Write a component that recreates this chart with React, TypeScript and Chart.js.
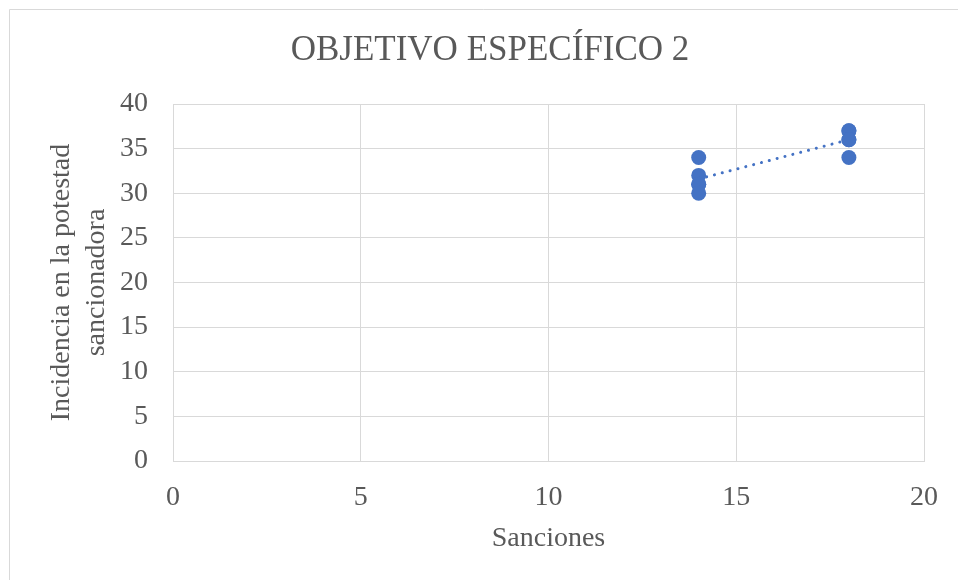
import React, { useEffect, useRef } from "react";
import { Chart, registerables } from "chart.js";

Chart.register(...registerables);

const chartTitle = "OBJETIVO ESPECÍFICO 2";
const xAxisTitle = "Sanciones";
const yAxisTitle = ["Incidencia en la potestad", "sancionadora"];

const sanciones = [14, 14, 14, 14, 14, 18, 18, 18, 18, 18];
const incidencia = [34, 32, 31, 31, 30, 37, 37, 36, 36, 34];

const xMin = 0;
const xMax = 20;
const yMin = 0;
const yMax = 40;
const step = 5;

const blue = "#4472C4";
const tickColor = "#595959";
const gridColor = "#d9d9d9";
const serif = "'Liberation Serif', 'Times New Roman', serif";

function linearFit(xs: number[], ys: number[]) {
  const n = xs.length;
  const mx = xs.reduce((a, b) => a + b, 0) / n;
  const my = ys.reduce((a, b) => a + b, 0) / n;
  let num = 0;
  let den = 0;
  for (let i = 0; i < n; i++) {
    num += (xs[i] - mx) * (ys[i] - my);
    den += (xs[i] - mx) * (xs[i] - mx);
  }
  const slope = num / den;
  return { slope, intercept: my - slope * mx };
}

const decorPlugin = {
  id: "decor",
  beforeDraw(chart: any) {
    const ctx = chart.ctx;
    ctx.save();
    ctx.fillStyle = "#ffffff";
    ctx.fillRect(0, 0, chart.width, chart.height);
    ctx.strokeStyle = "#d9d9d9";
    ctx.lineWidth = 1;
    ctx.beginPath();
    ctx.moveTo(9.5, chart.height);
    ctx.lineTo(9.5, 9.5);
    ctx.lineTo(chart.width, 9.5);
    ctx.stroke();
    ctx.fillStyle = tickColor;
    ctx.font = `35px ${serif}`;
    ctx.textAlign = "center";
    ctx.textBaseline = "middle";
    ctx.fillText(chartTitle, 490, 51);
    ctx.restore();
  },
};

export default function App() {
  const ref = useRef<HTMLCanvasElement>(null);

  useEffect(() => {
    document.body.style.margin = "0";
    const points = sanciones.map((x, i) => ({ x, y: incidencia[i] }));
    const fit = linearFit(sanciones, incidencia);
    const x0 = Math.min(...sanciones);
    const x1 = Math.max(...sanciones);
    const trend = [
      { x: x0, y: fit.intercept + fit.slope * x0 },
      { x: x1, y: fit.intercept + fit.slope * x1 },
    ];

    const chart = new Chart(ref.current as HTMLCanvasElement, {
      type: "scatter",
      data: {
        datasets: [
          {
            type: "line",
            data: trend,
            borderColor: blue,
            borderWidth: 3,
            borderDash: [0.1, 8],
            borderCapStyle: "round",
            pointRadius: 0,
            fill: false,
            order: 2,
          } as any,
          {
            data: points,
            backgroundColor: blue,
            borderColor: blue,
            pointRadius: 7.5,
            borderWidth: 0,
            order: 1,
          },
        ],
      },
      options: {
        animation: false,
        responsive: false,
        devicePixelRatio: 1,
        layout: { padding: { top: 104, right: 33, bottom: 0, left: 0 } },
        plugins: {
          legend: { display: false },
          tooltip: { enabled: false },
          title: { display: false },
        },
        scales: {
          x: {
            type: "linear",
            min: xMin,
            max: xMax,
            ticks: {
              stepSize: step,
              color: tickColor,
              font: { family: serif, size: 28 },
              padding: 20,
              maxRotation: 0,
            },
            grid: { color: gridColor, drawTicks: false, lineWidth: 1 },
            border: { color: gridColor },
            title: {
              display: true,
              text: xAxisTitle,
              color: tickColor,
              font: { family: serif, size: 28 },
              padding: { top: 0, bottom: 25 },
            },
            afterFit(scale: any) {
              scale.height = 119;
            },
          },
          y: {
            type: "linear",
            min: yMin,
            max: yMax,
            ticks: {
              stepSize: step,
              color: tickColor,
              font: { family: serif, size: 28 },
              padding: 25,
            },
            grid: { color: gridColor, drawTicks: false, lineWidth: 1 },
            border: { color: gridColor },
            title: {
              display: true,
              text: yAxisTitle,
              color: tickColor,
              font: { family: serif, size: 28, lineHeight: 1.25 },
              padding: { top: 44, bottom: 0 },
            },
            afterFit(scale: any) {
              scale.width = 173;
            },
          },
        },
      },
      plugins: [decorPlugin],
    } as any);

    return () => chart.destroy();
  }, []);

  return (
    <div style={{ width: 958, height: 580 }}>
      <canvas ref={ref} width={958} height={580} style={{ display: "block" }} />
    </div>
  );
}
